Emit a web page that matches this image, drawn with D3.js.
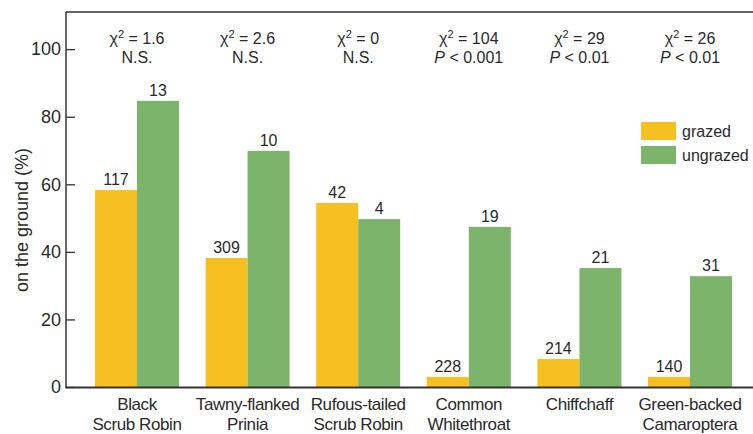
<!DOCTYPE html>
<html>
<head>
<meta charset="utf-8">
<script src="https://cdn.jsdelivr.net/npm/d3@7"></script>
<style>
  html, body { margin: 0; padding: 0; background: #fff; }
  svg { display: block; font-family: "Liberation Sans", Arial, Helvetica, sans-serif; }
</style>
</head>
<body>
<svg id="chart" width="753" height="434"></svg>
<script>
const categories = ["Black\nScrub Robin", "Tawny-flanked\nPrinia", "Rufous-tailed\nScrub Robin", "Common\nWhitethroat", "Chiffchaff", "Green-backed\nCamaroptera"];
const seriesNames = ["grazed", "ungrazed"];
const grazed = [58.3, 38.2, 54.5, 3.0, 8.3, 3.0];
const ungrazed = [84.7, 69.9, 49.7, 47.4, 35.2, 32.8];
const nGrazed = [117, 309, 42, 228, 214, 140];
const nUngrazed = [13, 10, 4, 19, 21, 31];
const chiSq = ["1.6", "2.6", "0", "104", "29", "26"];
const pText = ["N.S.", "N.S.", "N.S.", "< 0.001", "< 0.01", "< 0.01"];
const yTicks = [0, 20, 40, 60, 80, 100];
const yLabel = "on the ground (%)";
const colors = ["#F6C023", "#7BB46A"];

const textColor = "#2a2a2a";
const axisColor = "#333";
const svg = d3.select("#chart");

const mLeft = 66, mTop = 12, mBottom = 387, mRight = 753;

const x = d3.scaleBand().domain(categories).range([81.7, 745.3]).paddingInner(0.2405).paddingOuter(0.12);
const xs = d3.scaleBand().domain(seriesNames).range([0, x.bandwidth()]).padding(0);
const y = d3.scaleLinear().domain([0, 111]).range([mBottom, mTop]);

const rows = categories.map((c, i) => ({
  cat: c,
  vals: [
    { s: "grazed", v: grazed[i], n: nGrazed[i] },
    { s: "ungrazed", v: ungrazed[i], n: nUngrazed[i] }
  ]
}));

// bars
const g = svg.append("g");
const groups = g.selectAll("g.grp").data(rows).join("g")
  .attr("transform", d => `translate(${x(d.cat)},0)`);
groups.selectAll("rect").data(d => d.vals).join("rect")
  .attr("x", d => xs(d.s))
  .attr("width", xs.bandwidth())
  .attr("y", d => y(d.v))
  .attr("height", d => y(0) - y(d.v))
  .attr("fill", (d, i) => colors[i]);
groups.selectAll("text.n").data(d => d.vals).join("text")
  .attr("class", "n")
  .attr("x", d => xs(d.s) + xs.bandwidth() / 2)
  .attr("y", d => y(d.v) - 5)
  .attr("text-anchor", "middle")
  .attr("font-size", 16)
  .attr("fill", textColor)
  .text(d => d.n);

// y axis
const yAxis = d3.axisLeft(y).tickValues(yTicks).tickSizeInner(-9).tickSizeOuter(0).tickPadding(5);
const ya = svg.append("g").attr("transform", `translate(${mLeft},0)`).call(yAxis);
ya.select(".domain").remove();
ya.selectAll(".tick line").attr("stroke", axisColor).attr("stroke-width", 1.3);
ya.selectAll(".tick text").attr("font-size", 18).attr("fill", textColor).attr("font-family", "Liberation Sans, Arial, sans-serif");

// frame lines
svg.append("line").attr("x1", mLeft).attr("x2", mLeft).attr("y1", mTop).attr("y2", mBottom)
  .attr("stroke", axisColor).attr("stroke-width", 1.5);
svg.append("line").attr("x1", mLeft).attr("x2", mRight).attr("y1", mTop).attr("y2", mTop)
  .attr("stroke", axisColor).attr("stroke-width", 1.5);
svg.append("line").attr("x1", mLeft - 0.75).attr("x2", mRight).attr("y1", mBottom + 0.5).attr("y2", mBottom + 0.5)
  .attr("stroke", axisColor).attr("stroke-width", 2);

// x axis labels
const xa = svg.append("g");
categories.forEach(c => {
  const lines = c.split("\n");
  const t = xa.append("text")
    .attr("x", x(c) + x.bandwidth() / 2)
    .attr("y", 409.5)
    .attr("text-anchor", "middle")
    .attr("font-size", 17)
    .attr("fill", textColor)
    .style("letter-spacing", "-0.4px");
  lines.forEach((l, i) => {
    t.append("tspan").attr("x", x(c) + x.bandwidth() / 2).attr("dy", i === 0 ? 0 : 20).text(l);
  });
});

// stats annotations
categories.forEach((c, i) => {
  const cx = x(c) + x.bandwidth() / 2;
  const t1 = svg.append("text").attr("x", cx).attr("y", 43.5)
    .attr("text-anchor", "middle").attr("font-size", 16).attr("fill", textColor);
  t1.append("tspan").text("\u03C7");
  t1.append("tspan").attr("font-size", 11).attr("dy", -6).text("2");
  t1.append("tspan").attr("dy", 6).text(" = " + chiSq[i]);
  const t2 = svg.append("text").attr("x", cx).attr("y", 62.5)
    .attr("text-anchor", "middle").attr("font-size", 16).attr("fill", textColor);
  if (pText[i] === "N.S.") {
    t2.text("N.S.");
  } else {
    t2.append("tspan").attr("font-style", "italic").text("P");
    t2.append("tspan").text(" " + pText[i]);
  }
});

// y label
svg.append("text")
  .attr("transform", `translate(28,${220}) rotate(-90)`)
  .attr("text-anchor", "middle")
  .attr("font-size", 18)
  .attr("fill", textColor)
  .text(yLabel);

// legend
const leg = svg.append("g").attr("transform", "translate(641,122)");
seriesNames.forEach((s, i) => {
  leg.append("rect").attr("x", 0).attr("y", i * 24).attr("width", 35).attr("height", 18).attr("fill", colors[i]);
  leg.append("text").attr("x", 41).attr("y", i * 24 + 9).attr("dy", "0.35em")
    .attr("font-size", 16).attr("fill", textColor).text(s);
});
</script>
</body>
</html>
